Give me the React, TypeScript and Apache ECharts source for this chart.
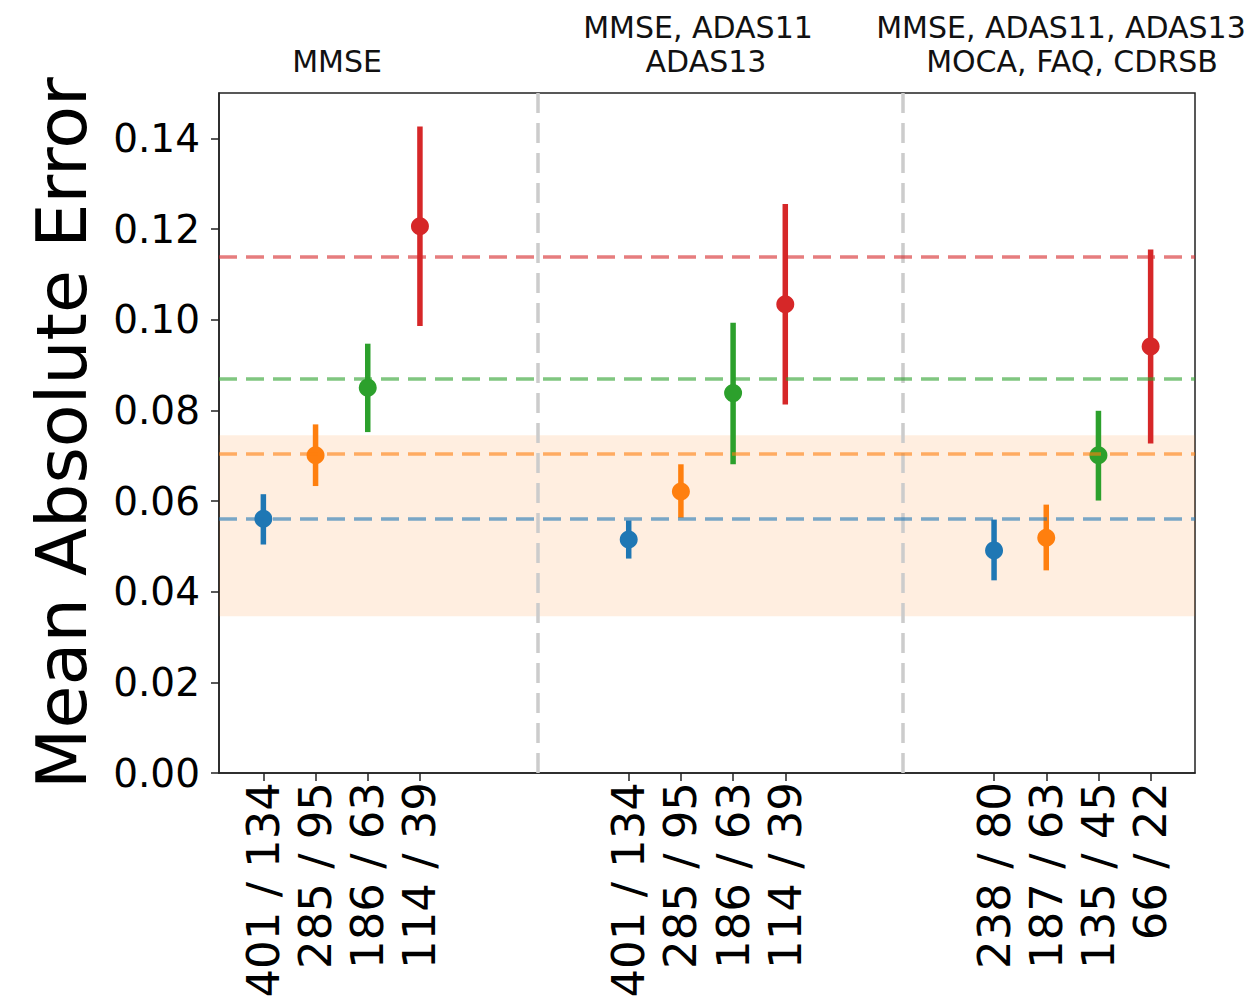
import React, { useEffect, useRef } from "react";
import * as echarts from "echarts";

// x positions of the 12 estimates (3 groups of 4)
const positions = [0, 1, 2, 3, 7, 8, 9, 10, 14, 15, 16, 17];
const xLabels = [
  "401 / 134", "285 / 95", "186 / 63", "114 / 39",
  "401 / 134", "285 / 95", "186 / 63", "114 / 39",
  "238 / 80", "187 / 63", "135 / 45", "66 / 22",
];
const yTicks = [0, 0.02, 0.04, 0.06, 0.08, 0.1, 0.12, 0.14];
const groupTitleLines = [
  ["MMSE"],
  ["MMSE, ADAS11", "ADAS13"],
  ["MMSE, ADAS11, ADAS13", "MOCA, FAQ, CDRSB"],
];
const dividers = [5.25, 12.25];

// per colour: x positions, mean, lower, upper
const blueX = [0, 7, 14];
const blueMean = [0.0561, 0.0515, 0.0491];
const blueLow = [0.0504, 0.0473, 0.0425];
const blueHigh = [0.0615, 0.0557, 0.0559];

const orangeX = [1, 8, 15];
const orangeMean = [0.0701, 0.0621, 0.0519];
const orangeLow = [0.0633, 0.0563, 0.0447];
const orangeHigh = [0.0769, 0.0681, 0.0592];

const greenX = [2, 9, 16];
const greenMean = [0.085, 0.0838, 0.0701];
const greenLow = [0.0752, 0.0681, 0.0601];
const greenHigh = [0.0947, 0.0993, 0.0799];

const redX = [3, 10, 17];
const redMean = [0.1206, 0.1034, 0.0941];
const redLow = [0.0986, 0.0813, 0.0727];
const redHigh = [0.1426, 0.1255, 0.1155];

const refBlue = 0.0561;
const refOrange = 0.0704;
const refGreen = 0.0869;
const refRed = 0.1139;
const band = [0.0346, 0.0745];

const FONT = '"DejaVu Sans", sans-serif';

type Grp = { name: string; color: string; xs: number[]; mean: number[]; lo: number[]; hi: number[]; ref: number };

const groups: Grp[] = [
  { name: "blue", color: "#1f77b4", xs: blueX, mean: blueMean, lo: blueLow, hi: blueHigh, ref: refBlue },
  { name: "orange", color: "#ff7f0e", xs: orangeX, mean: orangeMean, lo: orangeLow, hi: orangeHigh, ref: refOrange },
  { name: "green", color: "#2ca02c", xs: greenX, mean: greenMean, lo: greenLow, hi: greenHigh, ref: refGreen },
  { name: "red", color: "#d62728", xs: redX, mean: redMean, lo: redLow, hi: redHigh, ref: refRed },
];

// title text placement (pixels): [x, y] per line
const titlePlacement = [
  [[337, 61]],
  [[698, 27], [706, 61]],
  [[1061, 27], [1072, 61]],
];

export default function App() {
  const ref = useRef<HTMLDivElement>(null);
  useEffect(() => {
    if (!ref.current) return;
    const chart = echarts.init(ref.current, null, { renderer: "svg" });
    const series: any[] = [];

    // background band + dividers
    series.push({
      type: "line",
      data: [],
      silent: true,
      markArea: {
        silent: true,
        itemStyle: { color: "rgba(255,127,14,0.13)" },
        data: [[{ yAxis: band[0] }, { yAxis: band[1] }]],
      },
      markLine: {
        silent: true,
        precision: 4,
        symbol: "none",
        label: { show: false },
        lineStyle: { color: "#cccccc", width: 3.5, type: [20, 10] },
        data: dividers.map((d) => ({ xAxis: d })),
      },
      z: 1,
    });

    groups.forEach((g) => {
      series.push({
        type: "line",
        data: [],
        silent: true,
        markLine: {
          silent: true,
          precision: 5,
          symbol: "none",
          label: { show: false },
          lineStyle: { color: g.color, width: 3.5, opacity: 0.6, type: [18, 9] },
          data: [{ yAxis: g.ref }],
        },
        z: 2,
      });
      series.push({
        type: "custom",
        name: g.name + "-err",
        encode: { x: 0, y: [1, 2] },
        data: g.xs.map((x, i) => [x, g.lo[i], g.hi[i]]),
        z: 3,
        renderItem: (params: any, api: any) => {
          const p1 = api.coord([api.value(0), api.value(1)]);
          const p2 = api.coord([api.value(0), api.value(2)]);
          return {
            type: "line",
            shape: { x1: p1[0], y1: p1[1], x2: p2[0], y2: p2[1] },
            style: { stroke: g.color, lineWidth: 5.5, lineCap: "butt" },
          };
        },
      });
      series.push({
        type: "scatter",
        name: g.name,
        data: g.xs.map((x, i) => [x, g.mean[i]]),
        symbol: "circle",
        symbolSize: 18,
        itemStyle: { color: g.color, opacity: 1 },
        z: 4,
      });
    });

    const graphic: any[] = [];
    groupTitleLines.forEach((lines, gi) => {
      lines.forEach((t, li) => {
        const [x, y] = titlePlacement[gi][li];
        graphic.push({
          type: "text",
          x,
          y,
          style: { text: t, font: `30px ${FONT}`, textAlign: "center", textVerticalAlign: "middle", fill: "#111" },
        });
      });
    });

    chart.setOption({
      animation: false,
      grid: {
        left: 219,
        right: 59,
        top: 93,
        bottom: 227,
        outerBoundsMode: "none",
        containLabel: false,
        show: true,
        borderColor: "#222",
        borderWidth: 1.5,
        backgroundColor: "transparent",
      },
      xAxis: {
        type: "value",
        min: -0.85,
        max: 17.85,
        splitLine: { show: false },
        axisLine: { show: true, onZero: false, lineStyle: { color: "#222", width: 1.5 } },
        axisTick: { show: true, length: 8, customValues: positions, lineStyle: { color: "#222", width: 1.5 } },
        axisLabel: {
          customValues: positions,
          rotate: 90,
          margin: 9,
          fontSize: 45,
          fontFamily: FONT,
          color: "#000",
          formatter: (v: number) => {
            const i = positions.indexOf(Math.round(v));
            return i >= 0 ? xLabels[i] : "";
          },
        },
      },
      yAxis: {
        type: "value",
        min: 0,
        max: 0.15,
        splitLine: { show: false },
        name: "Mean Absolute Error",
        nameLocation: "middle",
        nameRotate: 90,
        nameGap: 122,
        nameTextStyle: { fontSize: 70, fontFamily: FONT, color: "#000" },
        axisLine: { show: true, onZero: false, lineStyle: { color: "#222", width: 1.5 } },
        axisTick: { show: true, length: 8, customValues: yTicks, lineStyle: { color: "#222", width: 1.5 } },
        axisLabel: {
          customValues: yTicks,
          margin: 19,
          fontSize: 39,
          fontFamily: FONT,
          color: "#000",
          formatter: (v: number) => v.toFixed(2),
        },
      },
      graphic,
      series,
    });
    return () => chart.dispose();
  }, []);
  return (
    <div
      ref={ref}
      style={{ position: "fixed", left: 0, top: 0, width: 1254, height: 1000, background: "#fff" }}
    />
  );
}
